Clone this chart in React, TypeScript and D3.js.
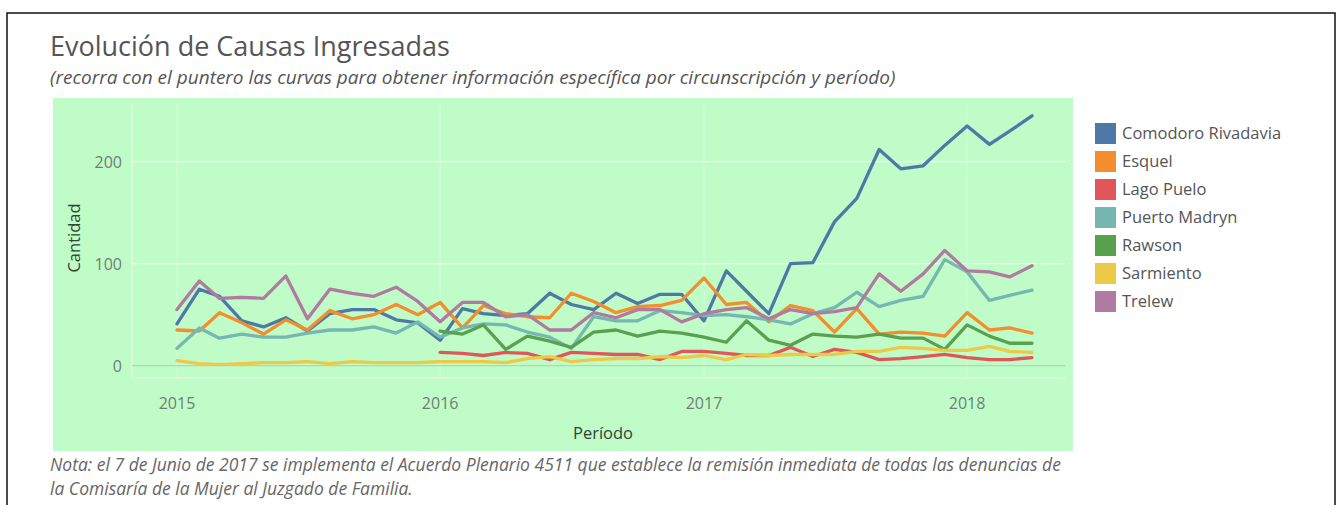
import React from 'react';
import * as d3 from 'd3';

const periods: string[] = d3.timeMonth
  .range(new Date(2015, 0, 1), new Date(2018, 4, 1))
  .map((d) => d3.timeFormat('%Y-%m')(d));

const seriesNames = ['Comodoro Rivadavia', 'Esquel', 'Lago Puelo', 'Puerto Madryn', 'Rawson', 'Sarmiento', 'Trelew'];
const seriesColors = ['#4e79a7', '#f28e2b', '#e15759', '#76b7b2', '#59a14f', '#edc948', '#b07aa1'];

const comodoro = [41, 75, 68, 44, 38, 47, 34, 51, 55, 55, 45, 42, 25, 56, 51, 49, 51, 71, 60, 55, 71, 61, 70, 70, 44, 93, 73, 51, 100, 101, 141, 164, 212, 193, 196, 216, 235, 217, 230, 245];
const esquel = [35, 34, 52, 42, 31, 45, 35, 54, 46, 50, 60, 50, 62, 37, 59, 51, 48, 47, 71, 63, 52, 58, 59, 64, 86, 60, 62, 43, 59, 54, 33, 56, 31, 33, 32, 29, 52, 35, 37, 32];
const lagoPuelo = [null, null, null, null, null, null, null, null, null, null, null, null, 13, 12, 10, 13, 12, 6, 13, 12, 11, 11, 6, 14, 14, 12, 10, 10, 18, 9, 16, 13, 6, 7, 9, 11, 8, 6, 6, 8];
const puertoMadryn = [17, 37, 27, 31, 28, 28, 32, 35, 35, 38, 32, 43, 28, 37, 41, 40, 33, 28, 17, 48, 44, 44, 54, 52, 49, 50, 48, 45, 41, 51, 57, 72, 58, 64, 68, 104, 92, 64, 69, 74];
const rawson = [null, null, null, null, null, null, null, null, null, null, null, null, 34, 31, 40, 16, 29, 24, 18, 33, 35, 29, 34, 32, 28, 23, 44, 25, 20, 31, 29, 28, 31, 27, 27, 16, 40, 29, 22, 22];
const sarmiento = [5, 2, 1, 2, 3, 3, 4, 2, 4, 3, 3, 3, 4, 4, 4, 3, 7, 9, 4, 6, 7, 7, 9, 8, 10, 6, 11, 10, 11, 11, 11, 14, 14, 18, 17, 15, 15, 19, 14, 13];
const trelew = [55, 83, 66, 67, 66, 88, 46, 75, 71, 68, 77, 63, 43, 62, 62, 48, 50, 35, 35, 52, 47, 55, 55, 43, 51, 55, 57, 46, 55, 51, 53, 57, 90, 73, 90, 113, 93, 92, 87, 98];

const seriesValues: (number | null)[][] = [comodoro, esquel, lagoPuelo, puertoMadryn, rawson, sarmiento, trelew];

const yTicks = [0, 100, 200];
const xTickYears = ['2015', '2016', '2017', '2018'];

const titleText = 'Evolución de Causas Ingresadas';
const subtitleText = '(recorra con el puntero las curvas para obtener información específica por circunscripción y período)';
const noteLines = [
  'Nota: el 7 de Junio de 2017 se implementa el Acuerdo Plenario 4511 que establece la remisión inmediata de todas las denuncias de',
  'la Comisaría de la Mujer al Juzgado de Familia.',
];

const FONT = '"Open Sans", "Noto Sans", sans-serif';

export default function App() {
  const W = 1341;
  const H = 505;
  const plot = { left: 132, right: 1065, top: 104, bottom: 378 };
  const parse = d3.timeParse('%Y-%m');
  const dates = periods.map((p) => parse(p) as Date);

  const x = d3
    .scaleTime()
    .domain([new Date(2015, 0, 1), new Date(2018, 3, 1)])
    .range([177, 1032]);
  const y = d3.scaleLinear().domain([0, 200]).range([365.7, 161.7]);

  const line = d3
    .line<number | null>()
    .defined((d) => d !== null)
    .x((_, i) => x(dates[i]))
    .y((d) => y(d as number));

  return (
    <svg width={W} height={H} style={{ position: 'absolute', left: 0, top: 0, background: '#fff' }}>
      <rect x={7} y={13} width={1328} height={600} fill="none" stroke="#111" strokeWidth={1.5} />
      <text x={50} y={56} fontFamily={FONT} fontSize={27} fill="#555">{titleText}</text>
      <text x={50} y={84} fontFamily={FONT} fontSize={19} fontStyle="italic" fill="#555">{subtitleText}</text>

      <rect x={53} y={98} width={1020} height={353} fill="#bffcc7" />

      {/* gridlines */}
      <line x1={plot.left} x2={plot.left} y1={plot.top} y2={plot.bottom} stroke="#fff" strokeOpacity={0.6} />
      <line x1={plot.left} x2={plot.right} y1={plot.bottom} y2={plot.bottom} stroke="#fff" strokeOpacity={0.6} />
      {xTickYears.map((yr) => {
        const xx = x(new Date(+yr, 0, 1));
        return <line key={yr} x1={xx} x2={xx} y1={plot.top} y2={plot.bottom} stroke="#fff" strokeOpacity={0.35} />;
      })}
      {yTicks.map((t) => (
        <line
          key={t}
          x1={plot.left}
          x2={plot.right}
          y1={y(t)}
          y2={y(t)}
          stroke={t === 0 ? '#a9c9b4' : '#fff'}
          strokeOpacity={t === 0 ? 0.9 : 0.8}
          strokeWidth={t === 0 ? 1 : 1.2}
        />
      ))}

      {/* y tick labels */}
      {yTicks.map((t) => (
        <text key={t} x={122} y={y(t) + 6} textAnchor="end" fontFamily={FONT} fontSize={16} fill="#6f7f74">{t}</text>
      ))}
      {/* x tick labels */}
      {xTickYears.map((yr) => (
        <text key={yr} x={x(new Date(+yr, 0, 1))} y={409} textAnchor="middle" fontFamily={FONT} fontSize={16} fill="#6f7f74">{yr}</text>
      ))}

      <text x={603} y={439} textAnchor="middle" fontFamily={FONT} fontSize={16.5} fill="#2f4534">Período</text>
      <text transform="translate(80,238) rotate(-90)" textAnchor="middle" fontFamily={FONT} fontSize={16.5} fill="#2f4534">Cantidad</text>

      {/* lines */}
      {seriesValues.map((vals, si) => (
        <path key={seriesNames[si]} d={line(vals) || ''} fill="none" stroke={seriesColors[si]} strokeWidth={3.3} strokeLinejoin="round" strokeLinecap="round" />
      ))}

      {/* legend */}
      {seriesNames.map((n, i) => (
        <g key={n} transform={`translate(1095,${123 + i * 28})`}>
          <rect x={0} y={0} width={21} height={21} fill={seriesColors[i]} />
          <text x={27} y={16} fontFamily={FONT} fontSize={16.5} fill="#555">{n}</text>
        </g>
      ))}

      {noteLines.map((l, i) => (
        <text key={i} x={50} y={471 + i * 24} fontFamily={FONT} fontSize={17.5} fontStyle="italic" fill="#666">{l}</text>
      ))}
    </svg>
  );
}
